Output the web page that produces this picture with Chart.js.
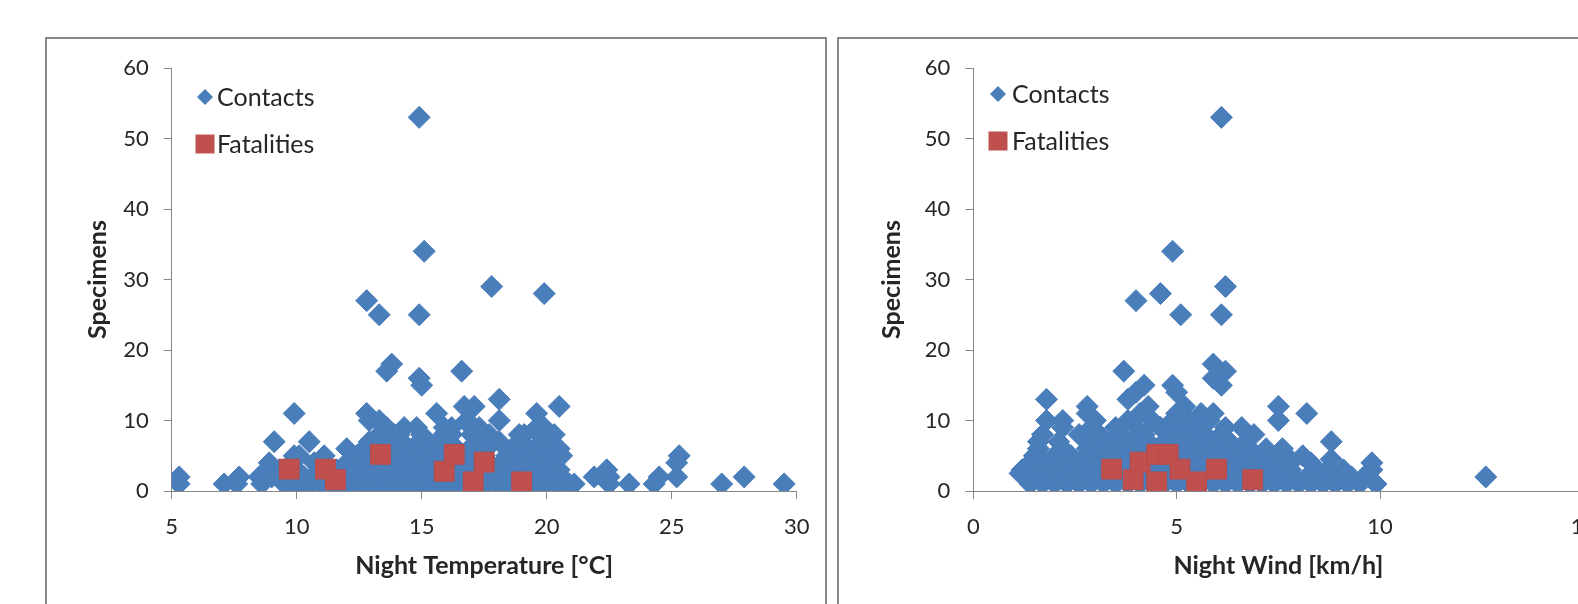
<!DOCTYPE html>
<html>
<head>
<meta charset="utf-8">
<script src="https://cdn.jsdelivr.net/npm/chart.js@4.4.1/dist/chart.umd.min.js"></script>
<style>
  html, body { margin: 0; padding: 0; background: #fff; overflow: hidden; }
  body { width: 1578px; height: 604px; position: relative; }
  .panel { position: absolute; top: 37px; width: 778px; height: 620px; border: 2px solid #898989; background: #fff; }
  #p1 { left: 45px; }
  #p2 { left: 837px; }
  canvas { display: block; }
</style>
</head>
<body>
<div class="panel" id="p1"><canvas id="tempChart" width="778" height="600"></canvas></div>
<div class="panel" id="p2"><canvas id="windChart" width="778" height="600"></canvas></div>
<script>
// Contacts vs night temperature [°C, specimens]
const tempContacts = [
  [14.9,53],[15.1,34],[12.8,27],[13.3,25],[14.9,25],[17.8,29],[19.9,28],
  [5.3,2],[5.3,1],[7.1,1],[7.6,1],[7.7,2],[8.5,2],[8.6,1],[8.8,3],[8.9,4],[9.1,7],
  [9.9,11],[9.9,5],[10.5,7],[11.1,5],[12.0,6],[12.4,5],[12.8,11],[12.9,10],[13.3,10],
  [13.6,17],[13.8,18],[13.6,9],[13.9,8],[14.9,16],[15.0,15],[14.8,9],[15.6,11],[15.2,7],
  [16.6,17],[16.7,12],[16.8,10],[16.2,9],[17.0,9],[17.1,12],[17.1,9],[17.7,8],[18.1,13],
  [18.1,10],[19.6,11],[19.6,9],[20.5,12],[19.1,8],[20.3,8],[20.5,6],[18.9,6],[20.0,4],
  [20.9,1],[21.9,2],[22.4,3],[22.5,2],[22.5,1],[23.3,1],[24.3,1],[24.5,2],[25.3,5],
  [25.2,4],[25.2,2],[27.0,1],[27.9,2],[29.5,1],
  [9.5,1],[9.9,1],[10.2,1],[10.6,1],[11.0,1],[11.4,1],[11.8,1],[12.1,1],[12.5,1],[12.8,1],
  [13.1,1],[13.4,1],[13.7,1],[14.0,1],[14.3,1],[14.6,1],[14.9,1],[15.2,1],[15.5,1],[15.8,1],
  [16.1,1],[16.4,1],[16.8,1],[17.2,1],[17.6,1],[18.0,1],[18.4,1],[18.8,1],[19.2,1],[19.6,1],
  [20.0,1],[20.4,1],[20.8,1],[21.1,1],
  [9.0,2],[9.6,2],[10.3,2],[10.8,2],[11.3,2],[11.9,2],[12.3,2],[12.7,2],[13.0,2],[13.5,2],
  [13.9,2],[14.2,2],[14.5,2],[14.8,2],[15.3,2],[15.7,2],[16.0,2],[16.6,2],[17.0,2],[17.4,2],
  [17.9,2],[18.3,2],[18.7,2],[19.4,2],[19.8,2],[20.2,2],[20.6,2],
  [9.3,3],[10.0,3],[10.9,3],[11.6,3],[12.2,3],[12.6,3],[13.2,3],[13.6,3],[14.1,3],[14.4,3],
  [14.7,3],[15.1,3],[15.6,3],[16.2,3],[16.9,3],[17.3,3],[17.8,3],[18.5,3],[19.0,3],[19.5,3],
  [20.1,3],[20.5,3],
  [9.8,4],[10.7,4],[12.0,4],[12.4,4],[12.9,4],[13.3,4],[13.8,4],[14.2,4],[14.6,4],[15.0,4],
  [15.4,4],[16.0,4],[16.5,4],[17.1,4],[17.7,4],[18.2,4],[18.8,4],[19.3,4],[19.9,4],[20.3,4],
  [10.1,5],[13.0,5],[13.7,5],[14.3,5],[14.9,5],[15.5,5],[16.3,5],[17.0,5],[17.5,5],[18.4,5],
  [19.2,5],[19.8,5],[20.6,5],
  [12.7,6],[13.4,6],[14.0,6],[14.5,6],[15.2,6],[15.8,6],[16.4,6],[16.9,6],[17.6,6],[18.6,6],
  [19.5,6],[20.2,6],
  [12.9,7],[13.6,7],[14.2,7],[14.9,7],[15.6,7],[16.1,7],[17.2,7],[18.1,7],[19.0,7],[20.0,7],
  [13.3,8],[14.1,8],[15.0,8],[16.2,8],[17.0,8],[18.9,8],[19.7,8],
  [13.5,9],[14.3,9],[15.9,9],[17.3,9],[19.9,9]
];
const tempFatalities = [
  [9.7,3.1],[11.15,3.1],[11.55,1.6],[13.35,5.2],[15.9,2.8],[16.3,5.2],[17.5,4.1],[17.06,1.3],[19.0,1.3]
];

// Contacts vs night wind [km/h, specimens]
const windContacts = [
  [6.1,53],[4.9,34],[4.0,27],[4.6,28],[5.1,25],[6.1,25],[6.2,29],
  [5.9,18],[6.2,17],[6.1,15],[5.9,16],[3.7,17],[4.2,15],[4.0,14],[3.8,13],[4.9,15],[5.0,14],
  [1.8,13],[1.8,10],[2.2,10],[2.2,9],[2.8,12],[2.8,11],[7.5,12],[7.5,10],[8.2,11],
  [8.8,7],[8.8,4.5],[9.8,4],[9.8,3],[9.9,1],[9.6,2],[12.6,2],[6.6,9],[1.15,2.5],
  [1.4,1],[1.7,1],[2.0,1],[2.3,1],[2.6,1],[2.9,1],[3.2,1],[3.5,1],[3.8,1],[4.1,1],
  [4.4,1],[4.7,1],[5.0,1],[5.3,1],[5.6,1],[5.9,1],[6.2,1],[6.5,1],[6.8,1],[7.1,1],
  [7.4,1],[7.7,1],[8.0,1],[8.3,1],[8.6,1],[8.9,1],[9.2,1],[9.5,1],
  [1.3,2],[1.6,2],[1.9,2],[2.2,2],[2.5,2],[2.8,2],[3.1,2],[3.4,2],[3.7,2],[4.0,2],
  [4.3,2],[4.6,2],[4.9,2],[5.2,2],[5.5,2],[5.8,2],[6.1,2],[6.4,2],[6.7,2],[7.0,2],
  [7.3,2],[7.6,2],[7.9,2],[8.2,2],[8.5,2],[8.8,2],[9.3,2],
  [1.2,3],[1.5,3],[1.8,3],[2.1,3],[2.4,3],[2.7,3],[3.0,3],[3.3,3],[3.6,3],[3.9,3],
  [4.2,3],[4.5,3],[4.8,3],[5.1,3],[5.4,3],[5.7,3],[6.0,3],[6.3,3],[6.6,3],[6.9,3],
  [7.2,3],[7.5,3],[7.8,3],[8.4,3],[8.7,3],[9.1,3],
  [1.4,4],[1.8,4],[2.2,4],[2.6,4],[3.0,4],[3.4,4],[3.8,4],[4.2,4],[4.6,4],[5.0,4],
  [5.4,4],[5.8,4],[6.2,4],[6.6,4],[7.0,4],[7.4,4],[7.8,4],[8.3,4],
  [1.5,5],[2.0,5],[2.4,5],[2.9,5],[3.3,5],[3.7,5],[4.1,5],[4.5,5],[4.9,5],[5.3,5],
  [5.7,5],[6.1,5],[6.5,5],[6.9,5],[7.3,5],[7.7,5],[8.1,5],
  [1.6,6],[2.2,6],[2.8,6],[3.2,6],[3.6,6],[4.0,6],[4.4,6],[4.8,6],[5.2,6],[5.6,6],
  [6.0,6],[6.4,6],[6.8,6],[7.2,6],[7.6,6],
  [1.6,7],[2.1,7],[2.9,7],[3.4,7],[3.9,7],[4.3,7],[4.7,7],[5.1,7],[5.5,7],[5.9,7],[6.3,7],[6.7,7],
  [1.7,8],[2.6,8],[3.1,8],[3.6,8],[4.2,8],[4.8,8],[5.3,8],[5.7,8],[6.1,8],[6.9,8],
  [2.9,9],[3.5,9],[4.0,9],[4.6,9],[5.1,9],[5.6,9],[6.2,9],
  [3.0,10],[3.8,10],[4.4,10],[4.9,10],[5.3,10],[5.8,10],
  [4.1,11],[5.0,11],[5.6,11],[5.9,11],[4.3,12],[5.2,12]
];
const windFatalities = [
  [3.4,3.1],[3.93,1.6],[4.1,4.1],[4.51,5.2],[4.51,1.3],[4.79,5.2],[5.08,3.1],[5.49,1.3],[5.98,3.1],[6.87,1.6]
];

const seriesNames = ['Contacts', 'Fatalities'];
const yTicks = { min: 0, max: 60, step: 10 };

const FONT = 'Lato';
const TEXT = '#262626';
const AXIS = '#868686';
const BLUE = '#4A7EBB';
const RED = '#C0504D';

// legend drawn inside the plot, Excel style
const insideLegend = {
  id: 'insideLegend',
  afterDraw(chart, args, opts) {
    const ctx = chart.ctx;
    ctx.save();
    ctx.font = `${opts.size}px ${FONT}`;
    ctx.textBaseline = 'middle';
    ctx.textAlign = 'left';
    opts.items.forEach((it, i) => {
      const ds = chart.data.datasets[i];
      const y = opts.y + i * opts.gap;
      ctx.fillStyle = ds.backgroundColor;
      ctx.beginPath();
      if (ds.pointStyle === 'rectRot') {
        ctx.moveTo(opts.mx - 8, y);
        ctx.lineTo(opts.mx, y - 8);
        ctx.lineTo(opts.mx + 8, y);
        ctx.lineTo(opts.mx, y + 8);
        ctx.closePath();
      } else {
        ctx.rect(opts.mx - 9.5, y - 9.5, 19, 19);
      }
      ctx.fill();
      ctx.fillStyle = TEXT;
      ctx.fillText(ds.label, opts.tx, y + 1);
    });
    ctx.restore();
  }
};

function makeChart(id, contacts, fatalities, xCfg, lay, legendPos) {
  const ctx = document.getElementById(id).getContext('2d');
  return new Chart(ctx, {
    type: 'scatter',
    data: {
      datasets: [
        {
          label: seriesNames[0],
          data: contacts.map(p => ({ x: p[0], y: p[1] })),
          pointStyle: 'rectRot',
          pointRadius: 11,
          backgroundColor: BLUE,
          borderColor: BLUE,
          borderWidth: 1,
          order: 1
        },
        {
          label: seriesNames[1],
          data: fatalities.map(p => ({ x: p[0], y: p[1] })),
          pointStyle: 'rect',
          pointRadius: 14,
          backgroundColor: RED,
          borderColor: '#BA4A47',
          borderWidth: 1,
          order: 0
        }
      ]
    },
    options: {
      responsive: false,
      animation: false,
      layout: { padding: { left: 0, top: lay.top, right: lay.right, bottom: lay.bottom } },
      plugins: {
        legend: { display: false },
        tooltip: { enabled: false },
        insideLegend: Object.assign({ size: 25, gap: 47, items: seriesNames }, legendPos)
      },
      scales: {
        x: {
          type: 'linear',
          min: xCfg.min,
          max: xCfg.max,
          afterFit: (axis) => { axis.height = lay.xh; },
          ticks: { stepSize: xCfg.step, padding: 15, color: TEXT, font: { family: FONT, size: 22 } },
          grid: { drawOnChartArea: false, drawTicks: true, tickLength: 8, color: AXIS },
          border: { display: true, color: AXIS, width: 1 },
          title: { display: true, text: xCfg.title, color: TEXT, font: { family: FONT, size: 25, weight: 'bold' }, padding: 0 }
        },
        y: {
          type: 'linear',
          min: yTicks.min,
          max: yTicks.max,
          afterFit: (axis) => { axis.width = lay.yw; },
          ticks: { stepSize: yTicks.step, padding: 15, color: TEXT, font: { family: FONT, size: 22 } },
          grid: { drawOnChartArea: false, drawTicks: true, tickLength: 8, color: AXIS },
          border: { display: true, color: AXIS, width: 1 },
          title: { display: true, text: 'Specimens', color: TEXT, font: { family: FONT, size: 25, weight: 'bold' }, padding: { top: lay.ytp, bottom: 0 } }
        }
      }
    },
    plugins: [insideLegend]
  });
}

makeChart('tempChart', tempContacts, tempFatalities,
  { min: 5, max: 30, step: 5, title: 'Night Temperature [°C]' },
  { top: 29, right: 28.3, bottom: 58, xh: 90, yw: 124.7, ytp: 36 },
  { mx: 158, tx: 170, y: 58 });

makeChart('windChart', windContacts, windFatalities,
  { min: 0, max: 15, step: 5, title: 'Night Wind [km/h]' },
  { top: 29, right: 33.6, bottom: 58, xh: 90, yw: 134.3, ytp: 38 },
  { mx: 159, tx: 173, y: 55 });
</script>
</body>
</html>
